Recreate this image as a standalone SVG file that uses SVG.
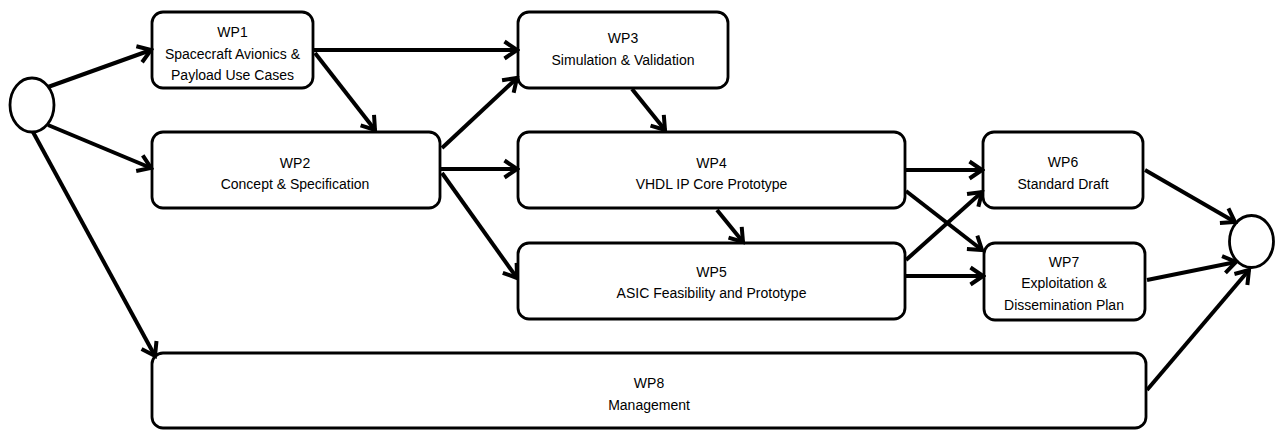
<svg xmlns="http://www.w3.org/2000/svg" width="1275" height="430" viewBox="0 0 1275 430">
  <style>
    .box { fill: #fff; stroke: #000; stroke-width: 2.8; }
    .ev { fill: #fff; stroke: #000; stroke-width: 2.8; }
    .lbl { font-family: "Liberation Sans", Arial, sans-serif; font-size: 14px; fill: #000; text-anchor: middle; }
    .edge { fill: none; stroke: #000; stroke-width: 4; marker-end: url(#head); }
  </style>
  <defs>
    <marker id="head" markerUnits="userSpaceOnUse" viewBox="-16 -12 19 24" markerWidth="19" markerHeight="24" refX="0" refY="0" orient="auto">
      <path d="M-12.5,-8.5 L0,0 L-12.5,8.5" fill="none" stroke="#000" stroke-width="4" stroke-linejoin="miter"/>
    </marker>
  </defs>
  <rect width="1275" height="430" fill="#fff"/>

  <g id="start"><ellipse class="ev" cx="32" cy="105" rx="22" ry="27"/></g>
  <g id="end"><ellipse class="ev" cx="1251.5" cy="241.5" rx="22" ry="26"/></g>

  <g id="wp1">
    <rect class="box" x="152" y="12" width="161" height="76" rx="11"/>
    <text class="lbl" x="232.5" y="37">WP1</text>
    <text class="lbl" x="232.5" y="58.5">Spacecraft Avionics &amp;</text>
    <text class="lbl" x="232.5" y="80">Payload Use Cases</text>
  </g>
  <g id="wp2">
    <rect class="box" x="152" y="132" width="288" height="76" rx="11"/>
    <text class="lbl" x="295" y="168">WP2</text>
    <text class="lbl" x="295" y="189">Concept &amp; Specification</text>
  </g>
  <g id="wp3">
    <rect class="box" x="518" y="12" width="210" height="76" rx="11"/>
    <text class="lbl" x="623" y="43">WP3</text>
    <text class="lbl" x="623" y="65">Simulation &amp; Validation</text>
  </g>
  <g id="wp4">
    <rect class="box" x="518" y="132" width="387" height="76" rx="11"/>
    <text class="lbl" x="711.5" y="168">WP4</text>
    <text class="lbl" x="711.5" y="189">VHDL IP Core Prototype</text>
  </g>
  <g id="wp5">
    <rect class="box" x="518" y="243" width="387" height="76" rx="11"/>
    <text class="lbl" x="711.5" y="277">WP5</text>
    <text class="lbl" x="711.5" y="298">ASIC Feasibility and Prototype</text>
  </g>
  <g id="wp6">
    <rect class="box" x="983" y="132" width="160" height="76" rx="11"/>
    <text class="lbl" x="1063" y="167">WP6</text>
    <text class="lbl" x="1063" y="189">Standard Draft</text>
  </g>
  <g id="wp7">
    <rect class="box" x="984" y="243" width="161" height="77" rx="11"/>
    <text class="lbl" x="1064" y="267">WP7</text>
    <text class="lbl" x="1064" y="288">Exploitation &amp;</text>
    <text class="lbl" x="1064" y="310">Dissemination Plan</text>
  </g>
  <g id="wp8">
    <rect class="box" x="152" y="353" width="994" height="75" rx="11"/>
    <text class="lbl" x="649" y="388">WP8</text>
    <text class="lbl" x="649" y="410">Management</text>
  </g>

  <g id="connectors">
    <line class="edge" x1="48" y1="87" x2="151" y2="50"/>
    <line class="edge" x1="48" y1="125" x2="151" y2="168"/>
    <line class="edge" x1="33" y1="132" x2="155" y2="356"/>
    <line class="edge" x1="314" y1="50" x2="517" y2="50"/>
    <line class="edge" x1="315" y1="53" x2="375" y2="130"/>
    <line class="edge" x1="442" y1="148" x2="517" y2="78"/>
    <line class="edge" x1="441" y1="169" x2="517" y2="169"/>
    <line class="edge" x1="442" y1="173" x2="517" y2="278"/>
    <line class="edge" x1="632" y1="89" x2="665" y2="130"/>
    <line class="edge" x1="717" y1="210" x2="743" y2="242"/>
    <line class="edge" x1="906" y1="170" x2="982" y2="170"/>
    <line class="edge" x1="906" y1="191" x2="982" y2="250"/>
    <line class="edge" x1="906" y1="260" x2="982" y2="192"/>
    <line class="edge" x1="906" y1="276" x2="983" y2="276"/>
    <line class="edge" x1="1145" y1="170" x2="1235" y2="222"/>
    <line class="edge" x1="1147" y1="280" x2="1236" y2="262"/>
    <line class="edge" x1="1147" y1="390" x2="1249" y2="270"/>
  </g>
</svg>
